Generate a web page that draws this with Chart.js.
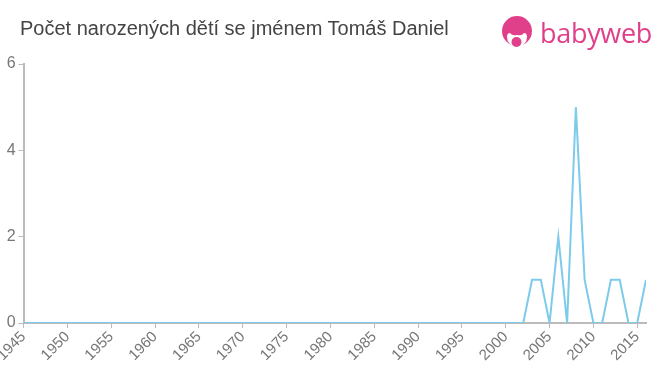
<!DOCTYPE html>
<html>
<head>
<meta charset="utf-8">
<script src="https://cdn.jsdelivr.net/npm/chart.js@4/dist/chart.umd.min.js"></script>
<style>
  html, body { margin: 0; padding: 0; background: #fff; }
  #wrap { position: relative; width: 660px; height: 375px; }
  #title { position: absolute; left: 20px; top: 17px; font: 20px "Liberation Sans", Arial, sans-serif; color: #444; white-space: nowrap; }
  #logo { position: absolute; left: 500px; top: 14px; height: 36px; }
  #logo svg { position: absolute; left: 0; top: 1px; }
  #logo span { position: absolute; left: 40px; top: 0; font: 27px "Open Sans", sans-serif; color: #e0408a; letter-spacing: -0.3px; }
</style>
</head>
<body>
<div id="wrap">
  <canvas id="myChart" width="660" height="375"></canvas>
  <div id="title">Počet narozených dětí se jménem Tomáš Daniel</div>
  <div id="logo">
    <svg width="34" height="34" viewBox="0 0 34 34">
      <circle cx="17" cy="16" r="15" fill="#e0408a"/>
      <path d="M7 22 Q7 18 10 18 Q12 21 17 20 Q22 21 24 18 Q27 18 27 22 Q27 30 17 32 Q7 30 7 22 Z" fill="#fff"/>
      <circle cx="16.5" cy="27" r="5" fill="#e0408a"/>
    </svg>
    <span>babyweb</span>
  </div>
</div>
<script>
var years = [1945, 1946, 1947, 1948, 1949, 1950, 1951, 1952, 1953, 1954,
    1955, 1956, 1957, 1958, 1959, 1960, 1961, 1962, 1963, 1964,
    1965, 1966, 1967, 1968, 1969, 1970, 1971, 1972, 1973, 1974,
    1975, 1976, 1977, 1978, 1979, 1980, 1981, 1982, 1983, 1984,
    1985, 1986, 1987, 1988, 1989, 1990, 1991, 1992, 1993, 1994,
    1995, 1996, 1997, 1998, 1999, 2000, 2001, 2002, 2003, 2004,
    2005, 2006, 2007, 2008, 2009, 2010, 2011, 2012, 2013, 2014,
    2015, 2016];
var births = [0, 0, 0, 0, 0, 0, 0, 0, 0, 0,
    0, 0, 0, 0, 0, 0, 0, 0, 0, 0,
    0, 0, 0, 0, 0, 0, 0, 0, 0, 0,
    0, 0, 0, 0, 0, 0, 0, 0, 0, 0,
    0, 0, 0, 0, 0, 0, 0, 0, 0, 0,
    0, 0, 0, 0, 0, 0, 0, 0, 1, 1,
    0, 2, 0, 5, 1, 0, 0, 1, 1, 0,
    0, 1];
var yTicks = [0, 2, 4, 6];

var points = years.map(function (y, i) { return { x: y, y: births[i] }; });

var ctx = document.getElementById('myChart').getContext('2d');
var myChart = new Chart(ctx, {
    type: 'line',
    data: {
        datasets: [{
            data: points,
            borderColor: '#7ccbea',
            borderWidth: 2,
            pointRadius: 0,
            tension: 0,
            fill: false
        }]
    },
    options: {
        responsive: false,
        animation: false,
        layout: {
            padding: { top: 64, right: 14, left: 1, bottom: 0 }
        },
        plugins: {
            legend: { display: false },
            title: { display: false },
            tooltip: { enabled: false }
        },
        scales: {
            x: {
                type: 'linear',
                min: years[0],
                max: years[years.length - 1],
                grid: { drawOnChartArea: false, drawTicks: true, tickLength: 5, color: '#bbb' },
                border: { display: true, color: '#bbb', width: 2 },
                ticks: {
                    stepSize: 5,
                    includeBounds: false,
                    autoSkip: false,
                    minRotation: 45,
                    maxRotation: 45,
                    color: '#777',
                    padding: 0,
                    font: { family: '"Liberation Sans", Arial, sans-serif', size: 15 },
                    callback: function (v) { return String(v); }
                },
                afterFit: function (axis) { axis.height = 52; }
            },
            y: {
                min: yTicks[0],
                max: yTicks[yTicks.length - 1],
                grid: { drawOnChartArea: false, drawTicks: true, tickLength: 5, color: '#bbb' },
                border: { display: true, color: '#bbb', width: 2 },
                afterBuildTicks: function (axis) {
                    axis.ticks = yTicks.map(function (v) { return { value: v }; });
                },
                ticks: {
                    color: '#777',
                    padding: 3,
                    font: { family: '"Liberation Sans", Arial, sans-serif', size: 16 }
                }
            }
        }
    }
});
</script>
</body>
</html>
